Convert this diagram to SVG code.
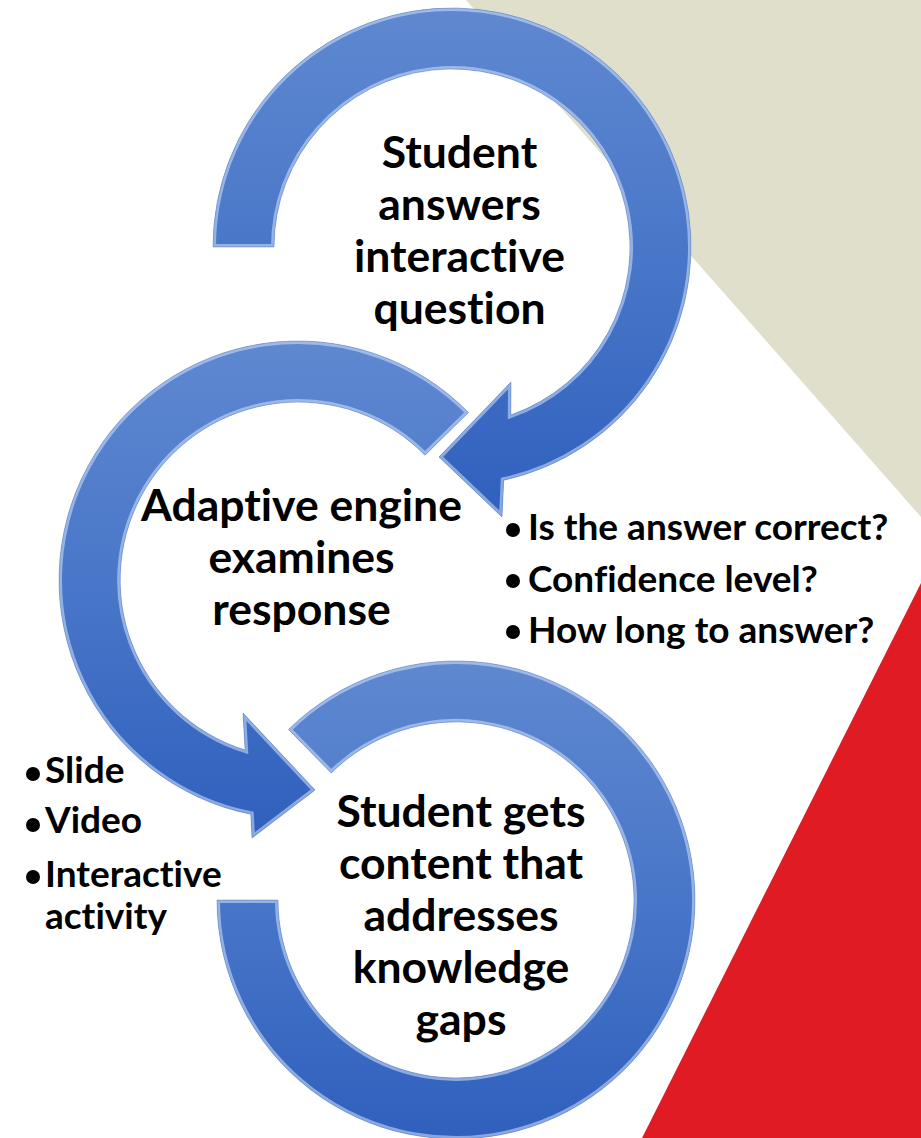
<svg xmlns="http://www.w3.org/2000/svg" xmlns:xlink="http://www.w3.org/1999/xlink" width="921" height="1138" viewBox="0 0 921 1138">
  <defs>
    <style>
      .step { font-family: Lato, "Open Sans", "Liberation Sans", sans-serif; font-weight: 700; font-size: 44.5px; fill: #000; text-anchor: middle; font-variant-ligatures: none; }
      .item { font-family: Lato, "Open Sans", "Liberation Sans", sans-serif; font-weight: 700; font-size: 37px; fill: #000; font-variant-ligatures: none; }
      .dot { fill: #000; }
      .ring { fill: url(#ringFill); }
      .rim { fill: none; stroke: #d6e4fc; stroke-width: 6; opacity: 0.55; }
      .edge { fill: none; stroke: #3a66b8; stroke-width: 0.8; opacity: 0.5; }
    </style>
    <linearGradient id="ringFill" x1="0" y1="0" x2="0" y2="1">
      <stop offset="0" stop-color="#5f88d0"/>
      <stop offset="0.5" stop-color="#4876c8"/>
      <stop offset="1" stop-color="#2f60bd"/>
    </linearGradient>
    <!-- ring outlines: outer radius 239, inner radius 178 -->
    <path id="arcTop" d="M213,247 A239,239 0 1 1 503.7,480.3 L502,517 L439,457 L511,382 L510.8,415 A178,178 0 1 0 274,247 Z"/>
    <path id="arcMid" d="M468.5,412.5 A239,239 0 1 0 250.8,814.3 L252,838 L315,790 L243,713 L245.1,750 A178,178 0 1 1 425,455.2 Z"/>
    <path id="arcBot" d="M288.5,729.5 A239,239 0 1 1 217,900 L278,900 A178,178 0 1 0 331.2,773 Z"/>
    <clipPath id="clipTop"><use xlink:href="#arcTop"/></clipPath>
    <clipPath id="clipMid"><use xlink:href="#arcMid"/></clipPath>
    <clipPath id="clipBot"><use xlink:href="#arcBot"/></clipPath>
  </defs>

  <!-- background -->
  <rect x="0" y="0" width="921" height="1138" fill="#ffffff"/>
  <polygon points="466,0 921,0 921,517" fill="#e0dfcb"/>
  <polygon points="921,583 921,1138 642,1138" fill="#e11b23"/>

  <!-- circular arrows -->
  <g id="connectors">
    <g id="arrow-answer-to-engine">
      <use xlink:href="#arcTop" class="ring"/>
      <use xlink:href="#arcTop" class="rim" clip-path="url(#clipTop)"/>
      <use xlink:href="#arcTop" class="edge"/>
    </g>
    <g id="arrow-engine-to-content">
      <use xlink:href="#arcMid" class="ring"/>
      <use xlink:href="#arcMid" class="rim" clip-path="url(#clipMid)"/>
      <use xlink:href="#arcMid" class="edge"/>
    </g>
    <g id="arc-content">
      <use xlink:href="#arcBot" class="ring"/>
      <use xlink:href="#arcBot" class="rim" clip-path="url(#clipBot)"/>
      <use xlink:href="#arcBot" class="edge"/>
    </g>
  </g>

  <!-- steps -->
  <g id="step-answer">
    <text class="step" x="459.5" y="168.3">Student</text>
    <text class="step" x="459.5" y="220.3">answers</text>
    <text class="step" x="459.5" y="272.3">interactive</text>
    <text class="step" x="459.5" y="324.3">question</text>
  </g>

  <g id="step-engine">
    <text class="step" x="301.5" y="520.7">Adaptive engine</text>
    <text class="step" x="301.5" y="572.7">examines</text>
    <text class="step" x="301.5" y="625">response</text>
  </g>

  <g id="step-content">
    <text class="step" x="461" y="826.7">Student gets</text>
    <text class="step" x="461" y="879">content that</text>
    <text class="step" x="461" y="930.7">addresses</text>
    <text class="step" x="461" y="983">knowledge</text>
    <text class="step" x="461" y="1035">gaps</text>
  </g>

  <g id="engine-checks">
    <circle class="dot" cx="513" cy="530" r="7"/>
    <text class="item" x="528" y="540">Is the answer correct?</text>
    <circle class="dot" cx="513" cy="581" r="7"/>
    <text class="item" x="528" y="592">Confidence level?</text>
    <circle class="dot" cx="513" cy="632" r="7"/>
    <text class="item" x="528" y="643">How long to answer?</text>
  </g>

  <g id="content-types">
    <circle class="dot" cx="33" cy="774" r="7"/>
    <text class="item" x="45" y="783">Slide</text>
    <circle class="dot" cx="33" cy="825" r="7"/>
    <text class="item" x="45" y="833">Video</text>
    <circle class="dot" cx="33" cy="877" r="7"/>
    <text class="item" x="45" y="887">Interactive</text>
    <text class="item" x="45" y="929">activity</text>
  </g>
</svg>
